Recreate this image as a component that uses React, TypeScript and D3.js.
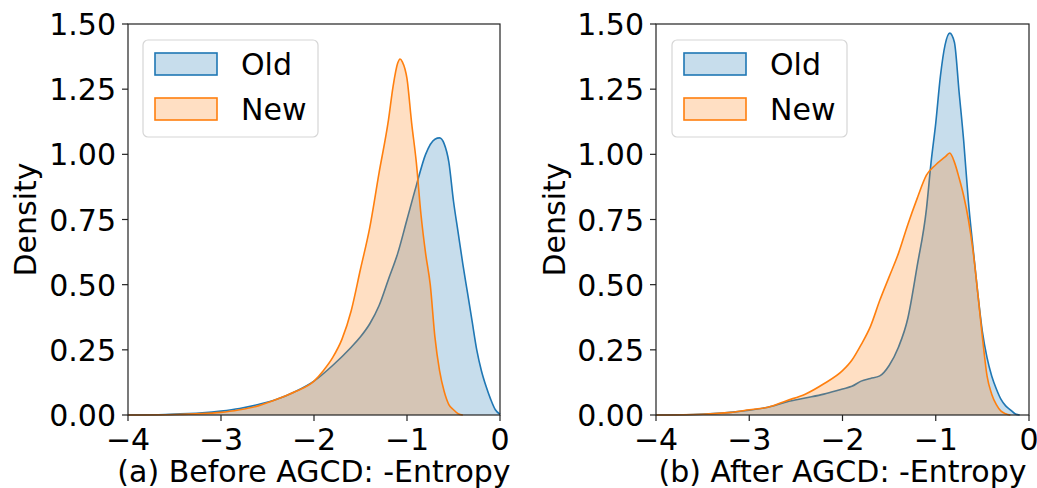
import React from 'react';
import * as d3 from 'd3';

// x grid of the kde estimates (in -entropy units)
const beforeOldX = [-4.0, -3.6, -3.2, -3.0, -2.8, -2.6, -2.4, -2.2, -2.0, -1.8, -1.6, -1.5, -1.4, -1.3, -1.2, -1.1, -1.0, -0.9, -0.8, -0.7, -0.65, -0.6, -0.55, -0.5, -0.45, -0.4, -0.35, -0.3, -0.25, -0.2, -0.15, -0.1, -0.05, 0.0];
const beforeOldY = [0, 0.002, 0.008, 0.015, 0.025, 0.04, 0.06, 0.09, 0.13, 0.19, 0.26, 0.3, 0.35, 0.42, 0.52, 0.62, 0.75, 0.88, 1.0, 1.058, 1.063, 1.04, 0.97, 0.82, 0.7, 0.58, 0.47, 0.36, 0.25, 0.17, 0.11, 0.06, 0.02, 0.003];

const beforeNewX = [-4.0, -3.5, -3.0, -2.8, -2.6, -2.4, -2.2, -2.0, -1.9, -1.8, -1.7, -1.6, -1.5, -1.4, -1.3, -1.2, -1.15, -1.1, -1.075, -1.05, -1.0, -0.95, -0.9, -0.85, -0.8, -0.75, -0.7, -0.65, -0.6, -0.55, -0.5, -0.45, -0.4];
const beforeNewY = [0, 0.002, 0.01, 0.02, 0.035, 0.06, 0.09, 0.13, 0.17, 0.22, 0.29, 0.4, 0.56, 0.72, 0.93, 1.13, 1.26, 1.35, 1.366, 1.355, 1.29, 1.12, 0.97, 0.77, 0.62, 0.5, 0.3, 0.17, 0.09, 0.04, 0.02, 0.005, 0];

const afterOldX = [-4.0, -3.6, -3.2, -3.0, -2.8, -2.6, -2.4, -2.2, -2.0, -1.9, -1.8, -1.7, -1.6, -1.5, -1.4, -1.3, -1.2, -1.1, -1.05, -1.0, -0.95, -0.9, -0.85, -0.8, -0.75, -0.7, -0.65, -0.6, -0.55, -0.5, -0.45, -0.4, -0.35, -0.3, -0.25, -0.2, -0.15, -0.1];
const afterOldY = [0, 0.002, 0.01, 0.018, 0.03, 0.05, 0.065, 0.08, 0.1, 0.11, 0.13, 0.14, 0.15, 0.19, 0.26, 0.37, 0.57, 0.79, 0.97, 1.12, 1.3, 1.42, 1.465, 1.43, 1.24, 1.05, 0.82, 0.64, 0.47, 0.32, 0.22, 0.15, 0.1, 0.06, 0.035, 0.02, 0.005, 0];

const afterNewX = [-4.0, -3.5, -3.2, -3.0, -2.8, -2.6, -2.4, -2.2, -2.0, -1.9, -1.8, -1.7, -1.6, -1.5, -1.4, -1.3, -1.2, -1.1, -1.0, -0.9, -0.85, -0.8, -0.75, -0.7, -0.65, -0.6, -0.55, -0.5, -0.45, -0.4, -0.35, -0.3, -0.25, -0.2];
const afterNewY = [0, 0.003, 0.01, 0.02, 0.03, 0.055, 0.08, 0.12, 0.17, 0.21, 0.27, 0.34, 0.44, 0.53, 0.62, 0.73, 0.83, 0.92, 0.96, 0.99, 1.005, 0.97, 0.91, 0.84, 0.75, 0.63, 0.47, 0.3, 0.15, 0.08, 0.04, 0.015, 0.005, 0];

const xTicks = [-4, -3, -2, -1, 0];
const yTicks = [0, 0.25, 0.5, 0.75, 1.0, 1.25, 1.5];
const seriesNames = ['Old', 'New'];
const panelTitles = ['(a) Before AGCD: -Entropy', '(b) After AGCD: -Entropy'];

const BLUE = '#1f77b4';
const ORANGE = '#ff7f0e';
const FONT = 'DejaVu Sans, sans-serif';
const FS = 30;

type Pt = [number, number];
const zipPts = (xs: number[], ys: number[]): Pt[] => xs.map((x, i) => [x, ys[i]]);

interface PanelProps {
  left: number;
  right: number;
  top: number;
  bottom: number;
  oldPts: Pt[];
  newPts: Pt[];
  title: string;
  densityX: number;
  legendX: number;
}

const Panel: React.FC<PanelProps> = ({ left, right, top, bottom, oldPts, newPts, title, densityX, legendX }) => {
  const x = d3.scaleLinear().domain([-4, 0]).range([left, right]);
  const y = d3.scaleLinear().domain([0, 1.5]).range([bottom, top]);

  const area = d3.area<Pt>()
    .x(d => x(d[0]))
    .y0(y(0))
    .y1(d => y(d[1]))
    .curve(d3.curveMonotoneX);
  const line = d3.line<Pt>()
    .x(d => x(d[0]))
    .y(d => y(d[1]))
    .curve(d3.curveMonotoneX);

  const series = [
    { pts: oldPts, color: BLUE },
    { pts: newPts, color: ORANGE },
  ];

  return (
    <g>
      {series.map((s, i) => (
        <g key={i}>
          <path d={area(s.pts) || ''} fill={s.color} fillOpacity={0.25} />
          <path d={line(s.pts) || ''} fill="none" stroke={s.color} strokeWidth={1.6} />
        </g>
      ))}

      {/* spines */}
      <rect x={left} y={top} width={right - left} height={bottom - top} fill="none" stroke="#222" strokeWidth={1.2} />

      {/* x axis */}
      {xTicks.map(t => (
        <g key={t}>
          <line x1={x(t)} x2={x(t)} y1={bottom} y2={bottom + 6} stroke="#222" strokeWidth={1.2} />
          <text x={x(t)} y={bottom + 35} textAnchor="middle" fontSize={FS} fontFamily={FONT} fill="#000">
            {t < 0 ? `\u2212${Math.abs(t)}` : `${t}`}
          </text>
        </g>
      ))}

      {/* y axis */}
      {yTicks.map(t => (
        <g key={t}>
          <line x1={left - 6} x2={left} y1={y(t)} y2={y(t)} stroke="#222" strokeWidth={1.2} />
          <text x={left - 12} y={y(t) + 11} textAnchor="end" fontSize={FS} fontFamily={FONT} fill="#000">
            {t.toFixed(2)}
          </text>
        </g>
      ))}

      <text x={(left + right) / 2} y={482} textAnchor="middle" fontSize={FS} fontFamily={FONT} fill="#000">
        {title}
      </text>
      <text transform={`translate(${densityX},${(top + bottom) / 2}) rotate(-90)`} textAnchor="middle"
        fontSize={FS} fontFamily={FONT} fill="#000">
        Density
      </text>

      {/* legend */}
      <rect x={legendX} y={40} width={175} height={97} rx={5} fill="#fff" fillOpacity={0.8} stroke="#d6d6d6" strokeWidth={1.2} />
      {seriesNames.map((name, i) => (
        <g key={name}>
          <rect x={legendX + 12} y={53 + i * 45} width={62} height={22}
            fill={series[i].color} fillOpacity={0.25} stroke={series[i].color} strokeWidth={1.6} />
          <text x={legendX + 98} y={75 + i * 45} fontSize={FS} fontFamily={FONT} fill="#000">{name}</text>
        </g>
      ))}
    </g>
  );
};

export default function App() {
  return (
    <div>
      <style>{`body{margin:0}`}</style>
      <svg width={1037} height={488} style={{ display: 'block', background: '#fff' }}>
        <Panel left={128} right={500} top={24} bottom={415}
          oldPts={zipPts(beforeOldX, beforeOldY)} newPts={zipPts(beforeNewX, beforeNewY)}
          title={panelTitles[0]} densityX={36} legendX={143} />
        <Panel left={656} right={1029} top={24} bottom={415}
          oldPts={zipPts(afterOldX, afterOldY)} newPts={zipPts(afterNewX, afterNewY)}
          title={panelTitles[1]} densityX={565} legendX={672} />
      </svg>
    </div>
  );
}
